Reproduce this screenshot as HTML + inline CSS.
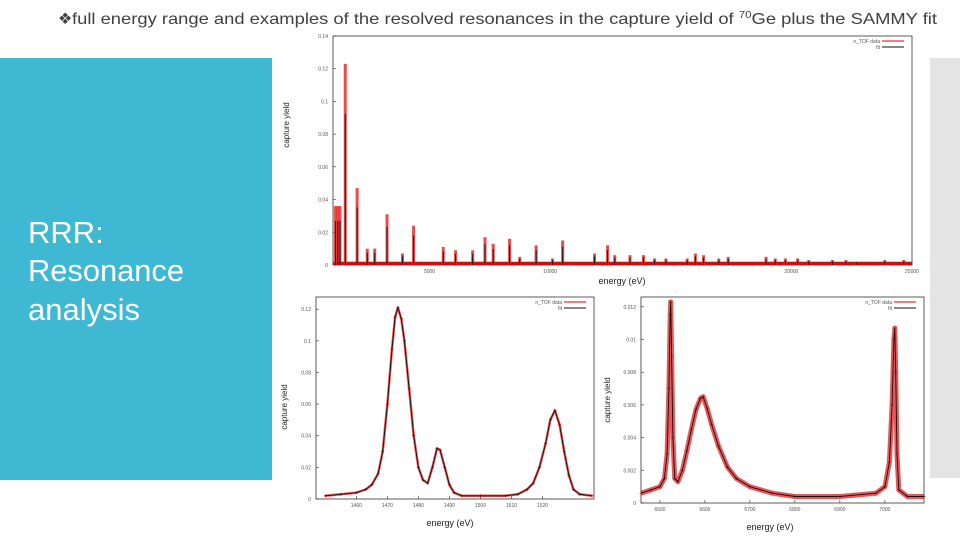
<!DOCTYPE html>
<html><head><meta charset="utf-8">
<style>
body{margin:0;background:#fff;}
svg{display:block;font-family:"Liberation Sans",sans-serif;}
.tk{font-size:5px;fill:#555;}
.ax{fill:none;stroke:#333;stroke-width:0.8;}
</style></head>
<body>
<svg id="s" width="960" height="540" viewBox="0 0 960 540">
<rect x="0" y="0" width="960" height="540" fill="#fff"/>
<rect x="0" y="58" width="272" height="422" fill="#3fb8d4"/>
<rect x="930" y="58" width="30" height="420" fill="#e4e4e4"/>
<text x="58" y="24" font-size="16" fill="#404040">❖</text>
<text x="72" y="24" font-size="16" fill="#404040" textLength="865" lengthAdjust="spacingAndGlyphs">full energy range and examples of the resolved resonances in the capture yield of <tspan font-size="10" dy="-6">70</tspan><tspan dy="6">Ge plus the SAMMY fit</tspan></text>
<g fill="#fff" font-size="31">
<text x="28" y="243">RRR:</text>
<text x="28" y="281" textLength="156" lengthAdjust="spacingAndGlyphs">Resonance</text>
<text x="28" y="320">analysis</text>
</g>
<g id="c1"></g>
<g id="c2"></g>
<g id="c3"></g>
</svg>
<script>
// ---- chart 1 data ----
const c1Energies=[1100,1200,1290,1508,2000,2420,2730,3240,3880,4340,5570,6080,6790,7300,7640,8320,8740,9420,10100,10520,11840,12380,12680,13310,13870,14330,14800,15680,16020,16360,16990,17380,18950,19330,19750,20260,20720,21700,22260,22710,23100,23870,24660];
const c1Yields=[0.036,0.036,0.036,0.123,0.047,0.010,0.010,0.031,0.007,0.024,0.011,0.009,0.009,0.017,0.013,0.016,0.005,0.012,0.004,0.015,0.007,0.012,0.006,0.006,0.006,0.004,0.004,0.004,0.007,0.006,0.004,0.005,0.005,0.004,0.004,0.004,0.003,0.003,0.003,0.002,0.002,0.003,0.003];
const c1XTicks=[5000,10000,20000,25000];
const c1YTicks=[0,0.02,0.04,0.06,0.08,0.1,0.12,0.14];
// ---- chart 2 data ----
const c2Energies=[1450,1455,1460,1463,1465,1467,1468.5,1470,1471.5,1472.5,1473.4,1474.5,1475.5,1477,1478.5,1480,1481.5,1483,1484.5,1486,1487,1488.5,1490,1491.5,1494,1500,1508,1512,1515,1517,1519,1521,1522.5,1524,1525.5,1527,1528.5,1530,1532,1536];
const c2Yields=[0.002,0.003,0.004,0.006,0.009,0.016,0.03,0.06,0.095,0.115,0.121,0.114,0.10,0.07,0.04,0.02,0.012,0.010,0.02,0.032,0.031,0.02,0.009,0.004,0.002,0.002,0.002,0.003,0.006,0.01,0.02,0.035,0.05,0.056,0.047,0.03,0.015,0.006,0.003,0.002];
const c2XTicks=[1460,1470,1480,1490,1500,1510,1520];
const c2YTicks=[0,0.02,0.04,0.06,0.08,0.1,0.12];
// ---- chart 3 data ----
const c3Energies=[6458,6480,6500,6510,6516,6520,6523,6524,6526,6529,6533,6540,6550,6560,6570,6580,6590,6596,6605,6615,6630,6650,6670,6700,6750,6800,6900,6980,7000,7010,7016,7020,7022,7024,7027,7031,7050,7087];
const c3Yields=[0.0006,0.0008,0.0010,0.0015,0.003,0.007,0.0115,0.0123,0.009,0.004,0.0015,0.0013,0.002,0.0032,0.0045,0.0057,0.0064,0.0065,0.0058,0.0048,0.0035,0.0022,0.0015,0.0010,0.0006,0.0004,0.0004,0.0006,0.0010,0.0025,0.006,0.0100,0.0107,0.008,0.003,0.0008,0.0004,0.0004];
const c3XTicks=[6500,6600,6700,6800,6900,7000];
const c3YTicks=[0,0.002,0.004,0.006,0.008,0.01,0.012];

const NS='http://www.w3.org/2000/svg';
function mk(parent,tag,attrs,txt){const e=document.createElementNS(NS,tag);for(const k in attrs)e.setAttribute(k,attrs[k]);if(txt!==undefined)e.textContent=txt;parent.appendChild(e);return e;}
function lin(d0,d1,r0,r1){return v=>r0+(v-d0)/(d1-d0)*(r1-r0);}

function frame(g,L,T,R,B,xs,ys,xt,yt,fmtY){
  const f=mk(g,'rect',{x:L,y:T,width:R-L,height:B-T,class:'ax'});
  
  
  xt.forEach(v=>{const x=xs(v);
    const t=mk(g,'line',{x1:x,x2:x,y1:B,y2:B-3,stroke:'#333','stroke-width':0.6});
    
    
    const l=mk(g,'text',{x:x,y:B+8,class:'tk','text-anchor':'middle'},String(v));
    
    });
  yt.forEach(v=>{const y=ys(v);
    const t=mk(g,'line',{x1:L,x2:L+3,y1:y,y2:y,stroke:'#333','stroke-width':0.6});
    
    
    const l=mk(g,'text',{x:L-5,y:y+2,class:'tk','text-anchor':'end'},fmtY(v));
    
    });
}
function legend(g,R,T){
  const a=mk(g,'text',{x:R-32,y:T+7,class:'tk','text-anchor':'end'},'n_TOF data');
  
  
  const b=mk(g,'line',{x1:R-30,x2:R-8,y1:T+5,y2:T+5,stroke:'#d00','stroke-width':1});
  
  
  const c=mk(g,'text',{x:R-32,y:T+13,class:'tk','text-anchor':'end'},'fit');
  
  
  const d=mk(g,'line',{x1:R-30,x2:R-8,y1:T+11,y2:T+11,stroke:'#111','stroke-width':1});
  
  
}
function labels(g,xl,yl){
  const a=mk(g,'text',{x:xl[0],y:xl[1],'font-size':9,fill:'#222','text-anchor':'middle'},'energy (eV)');
  
  
  const b=mk(g,'text',{x:0,y:0,'font-size':8,fill:'#222','text-anchor':'middle',transform:`translate(${yl[0]},${yl[1]}) rotate(-90)`},'capture yield');
  
  
}
function fmt(v){return v===0?'0':String(v);}

// chart 1
(function(){
  const g=document.getElementById('c1');
  const L=333,T=36,R=912,B=265;
  const xs=lin(1000,25000,L,R), ys=lin(0,0.14,B,T);
  frame(g,L,T,R,B,xs,ys,c1XTicks,c1YTicks,fmt);
  const base=mk(g,'rect',{x:L,y:ys(0.002),width:R-L,height:B-ys(0.002),fill:'#c81010'});
  
  
  c1Energies.forEach((e,i)=>{const x=xs(e),y=ys(c1Yields[i]);
    const r=mk(g,'rect',{x:x-1.5,y:y,width:3,height:B-y,fill:'#e02020',opacity:0.8});
    
    
    const l=mk(g,'line',{x1:x,x2:x,y1:B,y2:ys(c1Yields[i]*0.75),stroke:'#111','stroke-width':0.9});
    
    });
  legend(g,R,T);
  labels(g,[622,284],[289,125]);
})();

function curveChart(id,L,T,R,B,xd,yd,E,Y,xt,yt,xl,yl,bw){
  const g=document.getElementById(id);
  const xs=lin(xd[0],xd[1],L,R), ys=lin(yd[0],yd[1],B,T);
  frame(g,L,T,R,B,xs,ys,xt,yt,fmt);
  const pts=E.map((e,i)=>xs(e).toFixed(1)+','+ys(Y[i]).toFixed(1)).join(' ');
  const d=mk(g,'polyline',{points:pts,fill:'none',stroke:'#e02020','stroke-width':bw,opacity:0.75,'stroke-linejoin':'round'});
  
  
  E.forEach((e,i)=>{const x=xs(e),y=ys(Y[i]);
    const m=mk(g,'path',{d:`M${x-1.5},${y}h3M${x},${y-1.5}v3`,stroke:'#d00','stroke-width':0.7});
    
    });
  const f=mk(g,'polyline',{points:pts,fill:'none',stroke:'#111','stroke-width':0.9});
  
  
  legend(g,R,T);
  labels(g,xl,yl);
}
curveChart('c2',316,297,594,499,[1447,1536.6],[0,0.1277],c2Energies,c2Yields,c2XTicks,c2YTicks,[450,526],[287,407],2.5);
curveChart('c3',641,297,924,503,[6458,7087],[0,0.0126],c3Energies,c3Yields,c3XTicks,c3YTicks,[770,530],[610,400],5);
</script>
</body></html>
